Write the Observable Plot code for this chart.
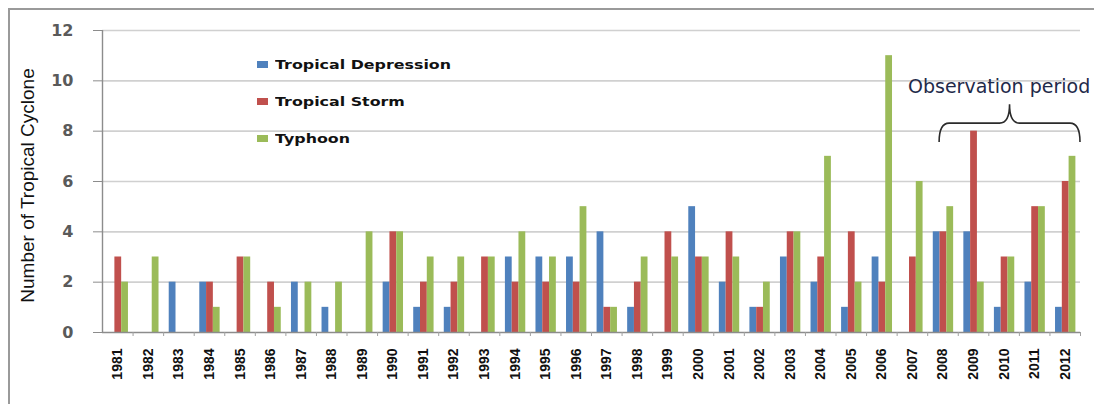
<!DOCTYPE html>
<html>
<head>
<meta charset="utf-8">
<script src="https://cdn.jsdelivr.net/npm/d3@7"></script>
<script src="https://cdn.jsdelivr.net/npm/@observablehq/plot@0.6"></script>
<style>
  html, body { margin: 0; padding: 0; background: #fff; }
  #wrap { position: relative; width: 1094px; height: 404px; overflow: hidden; }
  #frame { position: absolute; left: 8px; top: 8px; width: 1200px; height: 500px;
           border-left: 2px solid #9a9a9a; border-top: 2px solid #9a9a9a; box-sizing: border-box; }
  #legend { position: absolute; left: 257px; top: 0; font-family: "DejaVu Sans", sans-serif;
            font-weight: bold; font-size: 13px; color: #111; }
  .item { position: absolute; white-space: nowrap; display: flex; align-items: center; }
  .swatch { width: 11px; height: 7px; margin-right: 7px; }
  .name { display: inline-block; transform: scaleX(1.22); transform-origin: left center; }
  #chart { position: absolute; left: 0; top: 0; }
</style>
</head>
<body>
<div id="wrap">
  <div id="frame"></div>
  <div id="chart"></div>
  <div id="legend"></div>
</div>
<script>
// Annual tropical cyclone counts by category, 1981–2012
const years = ["1981","1982","1983","1984","1985","1986","1987","1988","1989","1990",
               "1991","1992","1993","1994","1995","1996","1997","1998","1999","2000",
               "2001","2002","2003","2004","2005","2006","2007","2008","2009","2010",
               "2011","2012"];
const depression = [0,0,2,2,0,0,2,1,0,2,1,1,0,3,3,3,4,1,0,5,2,1,3,2,1,3,0,4,4,1,2,1];
const storm      = [3,0,0,2,3,2,0,0,0,4,2,2,3,2,2,2,1,2,4,3,4,1,4,3,4,2,3,4,8,3,5,6];
const typhoon    = [2,3,0,1,3,1,2,2,4,4,3,3,3,4,3,5,1,3,3,3,3,2,4,7,2,11,6,5,2,3,5,7];
const seriesNames = ["Tropical Depression", "Tropical Storm", "Typhoon"];
const seriesColors = ["#4F81BD", "#C0504D", "#9BBB59"];
const yTicks = [0, 2, 4, 6, 8, 10, 12];
const yTitle = "Number of Tropical Cyclone";
const note = "Observation period";
const periodStart = "2008", periodEnd = "2012";

const series = [depression, storm, typhoon].map((values, i) => ({
  name: seriesNames[i], color: seriesColors[i],
  rows: years.map((year, j) => ({year, value: values[j]})).filter(d => d.value > 0)
}));

const W = 1094, H = 404, mL = 102, mR = 14, mT = 30, mB = 72;
const bw = (W - mL - mR) / years.length;   // width of one year band
const barW = bw * 0.222;                    // width of a single bar
const lead = bw * 0.183;                    // gap before the first bar of a group

// Curly brace over the observation period, placed with the chart's scales
function brace(index, scales) {
  const x = scales.x, y = scales.y;
  const xl = x(periodStart) + bw * 0.39, xr = x(periodEnd) + bw;
  const xm = (xl + xr) / 2;
  const y0 = y(7.55), ya = y(8.3), yp = y(9.05);
  const r = 10;
  const d = `M${xl},${y0} Q${xl},${ya} ${xl + r},${ya} L${xm - r},${ya} Q${xm},${ya} ${xm},${yp}` +
            ` Q${xm},${ya} ${xm + r},${ya} L${xr - r},${ya} Q${xr},${ya} ${xr},${y0}`;
  const p = document.createElementNS("http://www.w3.org/2000/svg", "path");
  p.setAttribute("d", d);
  p.setAttribute("fill", "none");
  p.setAttribute("stroke", "#2b2b2b");
  p.setAttribute("stroke-width", "1.6");
  return p;
}

const chart = Plot.plot({
  width: W, height: H,
  marginLeft: mL, marginRight: mR, marginTop: mT, marginBottom: mB,
  style: {background: "transparent", overflow: "visible"},
  x: {domain: years, padding: 0, round: false, label: null},
  y: {domain: [0, 12], label: null},
  marks: [
    Plot.ruleY(yTicks.filter(t => t > 0), {stroke: "#d0d0d0", strokeWidth: 1.6}),
    ...series.map((s, i) => Plot.barY(s.rows, {
      x: "year", y: "value", fill: s.color,
      insetLeft: lead + i * barW, insetRight: bw - lead - (i + 1) * barW
    })),
    Plot.ruleY([0], {stroke: "#8c8c8c", strokeWidth: 1.4}),
    Plot.axisY({ticks: yTicks, tickSize: 9, tickPadding: 20, stroke: "#8c8c8c",
                fontFamily: "DejaVu Sans", fontWeight: "bold", fontSize: 16, fill: "#5a5a5a", label: null}),
    Plot.axisX({tickSize: 0, tickPadding: 16, tickRotate: -90, textAnchor: "end",
                fontFamily: "Liberation Sans", fontWeight: "bold", fontSize: 14, fill: "#111", label: null}),
    Plot.axisX({tickSize: 4, dx: bw / 2, stroke: "#a0a0a0", fill: "none", label: null}),
    Plot.ruleX([0], {x: () => years[0], y1: 0, y2: 12, dx: -bw / 2, stroke: "#8c8c8c", strokeWidth: 1.4}),
    Plot.text([yTitle], {frameAnchor: "left", rotate: -90, textAnchor: "middle", dx: -75, dy: 4,
                         fontFamily: "Liberation Sans", fontSize: 19, fill: "#111"}),
    Plot.text([note], {x: () => "2010", y: () => 9.75, dx: -5,
                       fontFamily: "DejaVu Sans", fontSize: 19, fill: "#1f2a4a"}),
    brace
  ]
});
document.getElementById("chart").append(chart);

// Legend, stacked vertically inside the plotting area
const legend = document.getElementById("legend");
const legendTops = [57, 94, 131];
series.forEach((s, i) => {
  const item = document.createElement("div");
  item.className = "item";
  item.style.top = legendTops[i] + "px";
  item.innerHTML = `<span class="swatch" style="background:${s.color}"></span><span class="name">${s.name}</span>`;
  legend.append(item);
});
</script>
</body>
</html>
